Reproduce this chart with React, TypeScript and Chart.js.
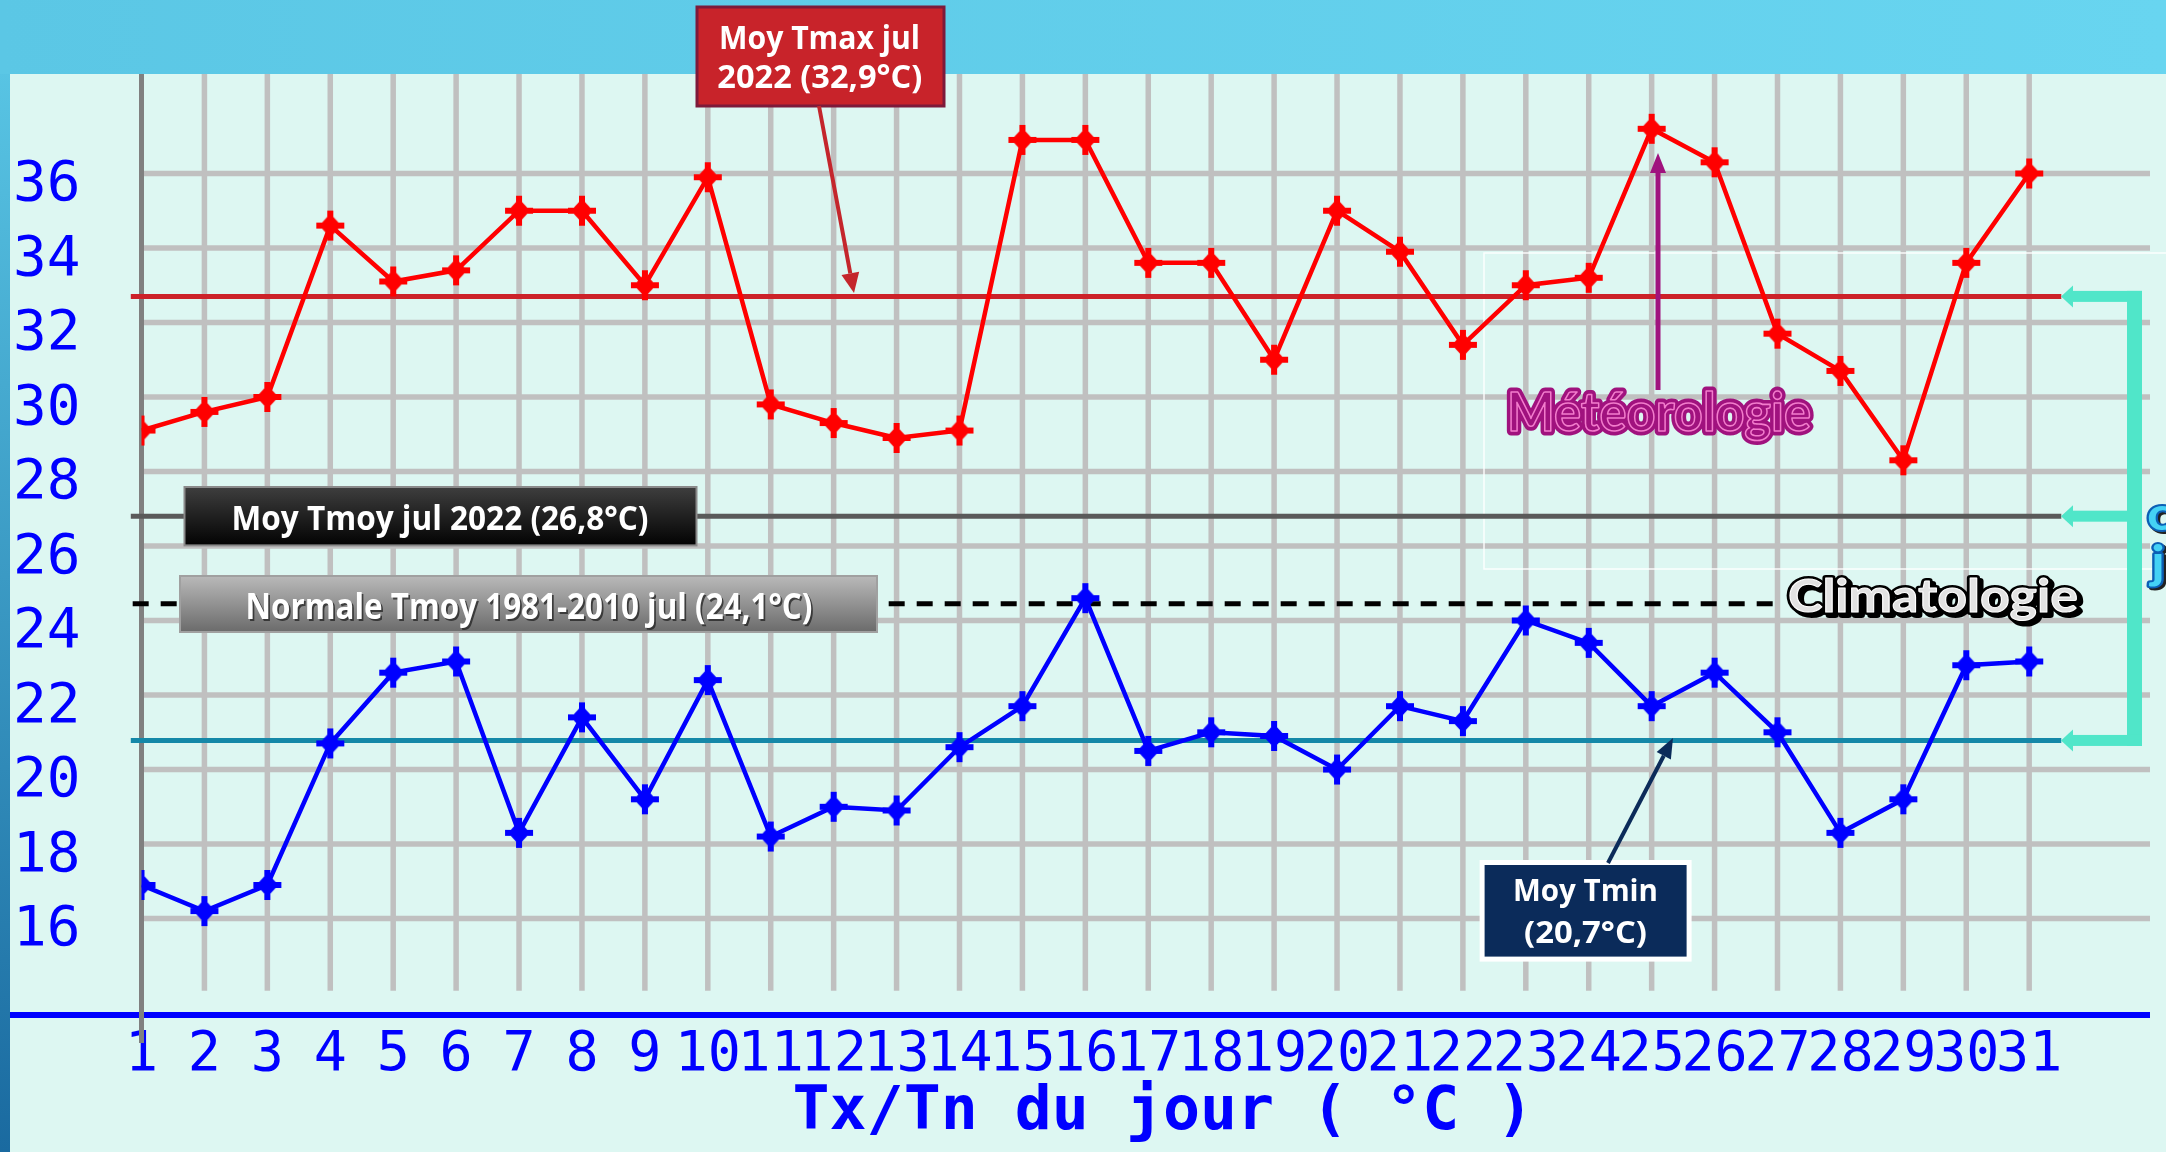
import React, { useEffect, useRef } from 'react';
import { Chart, registerables } from 'chart.js';

Chart.register(...registerables);

// ---------- data ----------
const days = [1, 2, 3, 4, 5, 6, 7, 8, 9, 10, 11, 12, 13, 14, 15, 16, 17, 18, 19, 20, 21, 22, 23, 24, 25, 26, 27, 28, 29, 30, 31];
const tmax = [29.1, 29.6, 30.0, 34.6, 33.1, 33.4, 35.0, 35.0, 33.0, 35.9, 29.8, 29.3, 28.9, 29.1, 36.9, 36.9, 33.6, 33.6, 31.0, 35.0, 33.9, 31.4, 33.0, 33.2, 37.2, 36.3, 31.7, 30.7, 28.3, 33.6, 36.0];
const tmin = [16.9, 16.2, 16.9, 20.7, 22.6, 22.9, 18.3, 21.4, 19.2, 22.4, 18.2, 19.0, 18.9, 20.6, 21.7, 24.6, 20.5, 21.0, 20.9, 20.0, 21.7, 21.3, 24.0, 23.4, 21.7, 22.6, 21.0, 18.3, 19.2, 22.8, 22.9];
const yTickValues = [16, 18, 20, 22, 24, 26, 28, 30, 32, 34, 36];

// reference levels as drawn on the picture
const refTmaxLevel = [32.7, 32.7];
const refTmoyLevel = [26.8, 26.8];
const refNormaleLevel = [24.45, 24.45];
const refTminLevel = [20.78, 20.78];
const refSpan = [0.83, 31.51];
const normaleSpan = [0.86, 26.93];

const textTmax = ['Moy Tmax jul', '2022 (32,9°C)'];
const textTmoy = 'Moy Tmoy jul 2022 (26,8°C)';
const textNormale = 'Normale Tmoy 1981-2010 jul (24,1°C)';
const textTmin = ['Moy Tmin', '(20,7°C)'];
const textMeteo = 'Météorologie';
const textClim = 'Climatologie';
const xTitle = 'Tx/Tn du jour ( °C )';

// ---------- helpers ----------
function makeMarker(color: string) {
  const c = document.createElement('canvas');
  c.width = 32;
  c.height = 32;
  const g = c.getContext('2d')!;
  g.fillStyle = color;
  g.fillRect(13, 1, 6, 30);
  g.fillRect(2, 13, 28, 6);
  g.beginPath();
  g.moveTo(16, 4);
  g.lineTo(27, 16);
  g.lineTo(16, 28);
  g.lineTo(5, 16);
  g.closePath();
  g.fill();
  return c;
}

function arrow(ctx: CanvasRenderingContext2D, x1: number, y1: number, x2: number, y2: number, color: string, w: number, hl: number, hw: number) {
  const a = Math.atan2(y2 - y1, x2 - x1);
  const bx = x2 - hl * Math.cos(a);
  const by = y2 - hl * Math.sin(a);
  ctx.strokeStyle = color;
  ctx.lineWidth = w;
  ctx.beginPath();
  ctx.moveTo(x1, y1);
  ctx.lineTo(bx, by);
  ctx.stroke();
  ctx.fillStyle = color;
  ctx.beginPath();
  ctx.moveTo(x2, y2);
  ctx.lineTo(bx + hw * Math.sin(a), by - hw * Math.cos(a));
  ctx.lineTo(bx - hw * Math.sin(a), by + hw * Math.cos(a));
  ctx.closePath();
  ctx.fill();
}

type TStyle = {
  fill: string;
  stroke?: string;
  strokeWidth?: number;
  inner?: string;
  innerWidth?: number;
  shadow?: string;
  shadowOff?: number;
};

function fitText(ctx: CanvasRenderingContext2D, text: string, cx: number, base: number, width: number, font: string, st: TStyle) {
  ctx.save();
  ctx.font = font;
  const w = ctx.measureText(text).width;
  ctx.translate(cx, base);
  ctx.scale(width / w, 1);
  ctx.textAlign = 'center';
  ctx.textBaseline = 'alphabetic';
  ctx.lineJoin = 'round';
  if (st.shadow) {
    const o = st.shadowOff || 2;
    if (st.stroke) {
      ctx.strokeStyle = st.shadow;
      ctx.lineWidth = st.strokeWidth || 2;
      ctx.strokeText(text, o, o);
    }
    ctx.fillStyle = st.shadow;
    ctx.fillText(text, o, o);
  }
  if (st.stroke) {
    ctx.strokeStyle = st.stroke;
    ctx.lineWidth = st.strokeWidth || 2;
    ctx.strokeText(text, 0, 0);
  }
  ctx.fillStyle = st.fill;
  ctx.fillText(text, 0, 0);
  if (st.inner) {
    ctx.strokeStyle = st.inner;
    ctx.lineWidth = st.innerWidth || 1.5;
    ctx.strokeText(text, 0, 0);
  }
  ctx.restore();
}

function seg(ctx: CanvasRenderingContext2D, x1: number, y1: number, x2: number, y2: number) {
  ctx.beginPath();
  ctx.moveTo(x1, y1);
  ctx.lineTo(x2, y2);
  ctx.stroke();
}

const BOX_FONT = '"Open Sans", "Lato", sans-serif';
const DECO_FONT = '"Lato", "Open Sans", sans-serif';

const decorPlugin = {
  id: 'decor',
  beforeDraw(chart: any) {
    const { ctx, width, height } = chart;
    ctx.save();
    let g = ctx.createLinearGradient(0, 0, 0, height);
    g.addColorStop(0, '#5ccae8');
    g.addColorStop(1, '#1a6aa0');
    ctx.fillStyle = g;
    ctx.fillRect(0, 0, width, height);
    g = ctx.createLinearGradient(0, 0, width, 0);
    g.addColorStop(0, '#5bc7e5');
    g.addColorStop(1, '#68d5f0');
    ctx.fillStyle = g;
    ctx.fillRect(0, 0, width, 74);
    ctx.fillStyle = '#ddf7f2';
    ctx.fillRect(10, 74, width - 10, height - 74);
    ctx.restore();
  },
  beforeDatasetsDraw(chart: any) {
    const { ctx, chartArea: ca, scales } = chart;
    const x = scales.x;
    const y = scales.y;
    ctx.save();
    ctx.strokeStyle = '#c0c0c0';
    ctx.lineWidth = 5.5;
    yTickValues.forEach((v) => {
      const py = y.getPixelForValue(v);
      seg(ctx, ca.left + 2.5, py, ca.right, py);
    });
    const gridEnd = y.getPixelForValue(14.06);
    days.slice(1).forEach((d) => {
      const px = x.getPixelForValue(d);
      seg(ctx, px, ca.top, px, gridEnd);
    });
    // faint frame
    ctx.strokeStyle = 'rgba(255,255,255,0.9)';
    ctx.lineWidth = 1.5;
    ctx.strokeRect(1484, 253, 720, 316);
    // blue axis line
    ctx.strokeStyle = '#0000ff';
    ctx.lineWidth = 6;
    seg(ctx, 10, ca.bottom, ca.right, ca.bottom);
    // grey y axis line
    const x1 = x.getPixelForValue(days[0]);
    ctx.strokeStyle = '#808080';
    ctx.lineWidth = 5;
    seg(ctx, x1, ca.top, x1, 1043);
    ctx.restore();
  },
  afterDraw(chart: any) {
    const { ctx, scales } = chart;
    const y = scales.y;
    ctx.save();

    // turquoise bracket with arrows
    const yR = y.getPixelForValue(refTmaxLevel[0]);
    const yG = y.getPixelForValue(refTmoyLevel[0]);
    const yT = y.getPixelForValue(refTminLevel[0]);
    ctx.fillStyle = '#50e6c9';
    ctx.fillRect(2127, yR - 5.5, 15, yT - yR + 11);
    [yR, yG, yT].forEach((yy) => {
      ctx.fillRect(2071, yy - 5.5, 2142 - 2071, 11);
      ctx.beginPath();
      ctx.moveTo(2061, yy);
      ctx.lineTo(2073, yy - 11);
      ctx.lineTo(2073, yy + 11);
      ctx.closePath();
      ctx.fill();
    });

    // cut-off text at right edge
    fitText(ctx, 'c', 2160, 530, 26, `bold 46px ${DECO_FONT}`, { fill: '#44d2f5', stroke: '#0b5fb5', strokeWidth: 4, shadow: '#222', shadowOff: 2 });
    fitText(ctx, 'j', 2158, 578, 14, `bold 46px ${DECO_FONT}`, { fill: '#44d2f5', stroke: '#0b5fb5', strokeWidth: 4, shadow: '#222', shadowOff: 2 });

    // Tmax box
    ctx.fillStyle = '#c8232a';
    ctx.fillRect(697, 7, 247, 99);
    ctx.strokeStyle = '#7d1a3a';
    ctx.lineWidth = 3;
    ctx.strokeRect(697, 7, 247, 99);
    fitText(ctx, textTmax[0], 819.5, 49, 201, `bold 32px ${BOX_FONT}`, { fill: '#ffffff' });
    fitText(ctx, textTmax[1], 819.8, 88, 205, `bold 32px ${BOX_FONT}`, { fill: '#ffffff' });
    arrow(ctx, 819, 106, 854, 293, '#c4262c', 4, 20, 9);

    // Tmoy box
    let g = ctx.createLinearGradient(0, 487, 0, 545);
    g.addColorStop(0, '#3e3e3e');
    g.addColorStop(1, '#030303');
    ctx.fillStyle = g;
    ctx.fillRect(184.5, 487, 512, 58.4);
    ctx.strokeStyle = '#8a8a8a';
    ctx.lineWidth = 2;
    ctx.strokeRect(184.5, 487, 512, 58.4);
    fitText(ctx, textTmoy, 440, 530, 417, `bold 34px ${BOX_FONT}`, { fill: '#ffffff' });

    // Normale box
    g = ctx.createLinearGradient(0, 576, 0, 632);
    g.addColorStop(0, '#b9b9b9');
    g.addColorStop(1, '#6b6b6b');
    ctx.fillStyle = g;
    ctx.fillRect(180, 576, 697, 56);
    ctx.strokeStyle = '#a0a0a0';
    ctx.lineWidth = 2;
    ctx.strokeRect(180, 576, 697, 56);
    fitText(ctx, textNormale, 529, 619, 567, `bold 36px ${BOX_FONT}`, { fill: '#ffffff', shadow: 'rgba(40,40,40,0.8)', shadowOff: 2 });

    // Tmin box
    ctx.fillStyle = '#ffffff';
    ctx.fillRect(1479.6, 860, 212, 101.6);
    ctx.fillStyle = '#0b2b5a';
    ctx.fillRect(1484.6, 865, 202, 91.6);
    fitText(ctx, textTmin[0], 1585.5, 901, 145, `bold 31px ${BOX_FONT}`, { fill: '#ffffff' });
    fitText(ctx, textTmin[1], 1585.5, 943, 123, `bold 31px ${BOX_FONT}`, { fill: '#ffffff' });
    arrow(ctx, 1608, 863, 1673, 738, '#0b2b5a', 4, 20, 8);

    // Météorologie
    arrow(ctx, 1658, 390, 1658, 153, '#a0127e', 5, 20, 8);
    fitText(ctx, textMeteo, 1659, 431, 304, `bold 54px ${DECO_FONT}`, { fill: '#a0127e', stroke: '#a0127e', strokeWidth: 9, inner: '#f27ccc', innerWidth: 1.6 });

    // Climatologie
    fitText(ctx, textClim, 1933, 612, 290, `bold 46px ${DECO_FONT}`, { fill: '#e2e2e2', stroke: '#000000', strokeWidth: 6, shadow: '#000000', shadowOff: 3, inner: '#ffffff', innerWidth: 1 });

    // x-axis title
    fitText(ctx, xTitle, 1163, 1129, 741, 'bold 61px "DejaVu Sans Mono", monospace', { fill: '#0000ff' });

    ctx.restore();
  },
};

export default function App() {
  const ref = useRef<HTMLCanvasElement | null>(null);

  useEffect(() => {
    if (!ref.current) return;
    const redMarker = makeMarker('#ff0000');
    const blueMarker = makeMarker('#0000ff');
    const refDs = (level: number[], span: number[], color: string, dash: number[] = []) => ({
      data: span.map((sx, i) => ({ x: sx, y: level[i] })),
      borderColor: color,
      borderWidth: 5,
      borderDash: dash,
      pointRadius: 0,
      clip: false as any,
      tension: 0,
    });
    const chart = new Chart(ref.current, {
      type: 'line',
      data: {
        datasets: [
          {
            label: 'Tx',
            data: days.map((d, i) => ({ x: d, y: tmax[i] })),
            borderColor: '#ff0000',
            borderWidth: 4.5,
            pointStyle: redMarker as any,
            pointRadius: 10,
            tension: 0,
          },
          {
            label: 'Tn',
            data: days.map((d, i) => ({ x: d, y: tmin[i] })),
            borderColor: '#0000ff',
            borderWidth: 4.5,
            pointStyle: blueMarker as any,
            pointRadius: 10,
            tension: 0,
          },
          refDs(refTmaxLevel, refSpan, '#cc2229'),
          refDs(refTmoyLevel, refSpan, '#5a5a5a'),
          refDs(refNormaleLevel, normaleSpan, '#000000', [16, 12]),
          refDs(refTminLevel, refSpan, '#1488a8'),
        ] as any,
      },
      options: {
        animation: false,
        responsive: false,
        events: [],
        layout: { padding: { left: 0, right: 16, top: 74, bottom: 0 } },
        plugins: { legend: { display: false }, tooltip: { enabled: false } },
        scales: {
          x: {
            type: 'linear',
            min: 1,
            max: 32.92,
            bounds: 'data',
            grid: { display: false, drawTicks: false },
            border: { display: false },
            afterBuildTicks: (s: any) => {
              s.ticks = days.map((d) => ({ value: d }));
            },
            afterFit: (s: any) => {
              s.height = 137;
              s.paddingLeft = 0;
              s.paddingRight = 0;
            },
            ticks: {
              autoSkip: false,
              maxRotation: 0,
              minRotation: 0,
              padding: 8,
              color: '#0000ff',
              font: { family: '"DejaVu Sans Mono", monospace', size: 55 },
              callback: (v: any) => String(v),
            },
          },
          y: {
            type: 'linear',
            min: 13.41,
            max: 38.67,
            bounds: 'data',
            grid: { display: false, drawTicks: false },
            border: { display: false },
            afterBuildTicks: (s: any) => {
              s.ticks = yTickValues.map((v) => ({ value: v }));
            },
            afterFit: (s: any) => {
              s.width = 141.5;
              s.paddingTop = 0;
              s.paddingBottom = 0;
            },
            ticks: {
              padding: 61,
              labelOffset: 12,
              color: '#0000ff',
              font: { family: '"DejaVu Sans Mono", monospace', size: 56 },
              callback: (v: any) => String(v),
            },
          },
        },
      } as any,
      plugins: [decorPlugin],
    });
    return () => chart.destroy();
  }, []);

  return (
    <div style={{ position: 'absolute', left: 0, top: 0, width: 2166, height: 1152 }}>
      <canvas ref={ref} width={2166} height={1152} style={{ display: 'block', width: 2166, height: 1152 }} />
    </div>
  );
}
